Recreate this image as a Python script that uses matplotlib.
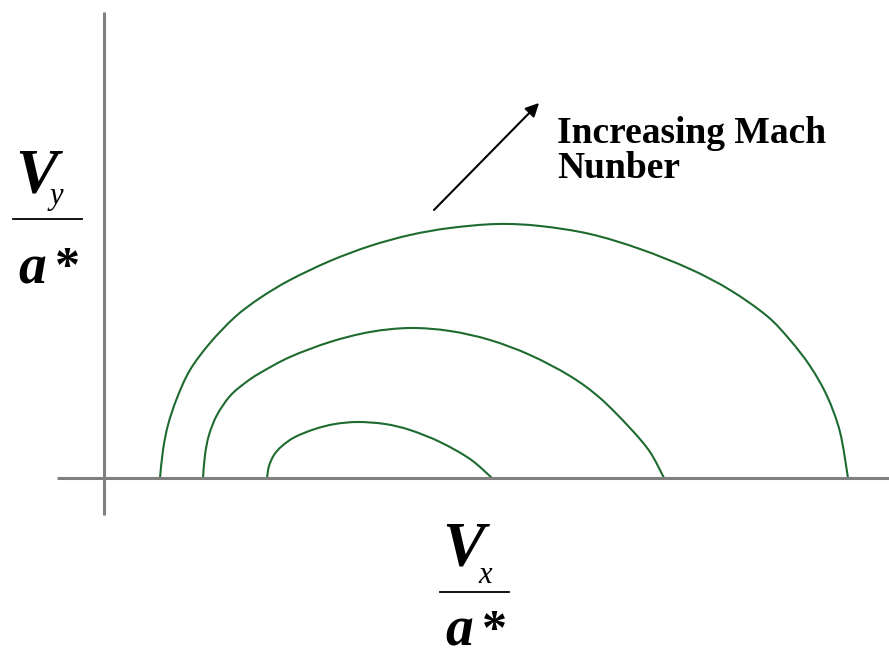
import numpy as np
import matplotlib.pyplot as plt
from matplotlib.path import Path
from matplotlib.patches import PathPatch, FancyArrowPatch

W, H = 889, 652

# velocity hodograph curves (V_x/a*, V_y/a*)
x_low = [1.63, 1.65, 1.70, 1.78, 1.91, 2.11, 2.31, 2.54, 2.81, 3.06, 3.36, 3.66, 3.88]
y_low = [0.00, 0.12, 0.23, 0.32, 0.41, 0.49, 0.54, 0.56, 0.54, 0.48, 0.36, 0.19, 0.00]

x_mid = [0.99, 1.01, 1.05, 1.13, 1.26, 1.41, 1.56, 1.86, 2.26, 2.66,
         3.06, 3.46, 3.86, 4.26, 4.66, 4.96, 5.26, 5.46, 5.60]
y_mid = [0.00, 0.23, 0.43, 0.63, 0.82, 0.95, 1.05, 1.21, 1.36, 1.46,
         1.50, 1.47, 1.38, 1.23, 1.02, 0.80, 0.50, 0.26, 0.00]

x_high = [0.56, 0.59, 0.64, 0.73, 0.86, 1.06, 1.31, 1.56, 1.86, 2.26,
          2.66, 3.06, 3.46, 3.93, 4.36, 4.86, 5.36, 5.86, 6.26, 6.63,
          6.86, 7.06, 7.23, 7.36, 7.44]
y_high = [0.00, 0.28, 0.53, 0.80, 1.08, 1.35, 1.61, 1.80, 1.98, 2.17,
          2.32, 2.43, 2.50, 2.54, 2.52, 2.44, 2.29, 2.09, 1.88, 1.62,
          1.38, 1.12, 0.82, 0.46, 0.00]

curves = [(x_low, y_low), (x_mid, y_mid), (x_high, y_high)]


def px(x, y):
    # picture pixels -> figure fraction
    return x / W, 1 - y / H


def smooth_path(xs, ys):
    # bezier path through the read points (catmull-rom tangents)
    p = np.column_stack([xs, ys])
    verts = [p[0]]
    codes = [Path.MOVETO]
    n = len(p)
    for i in range(n - 1):
        p0 = p[i - 1] if i > 0 else p[i]
        p3 = p[i + 2] if i + 2 < n else p[i + 1]
        verts += [p[i] + (p[i + 1] - p0) / 6, p[i + 1] - (p3 - p[i]) / 6, p[i + 1]]
        codes += [Path.CURVE4] * 3
    return Path(verts, codes)


fig = plt.figure(figsize=(W / 100, H / 100), dpi=100)
ax = fig.add_axes([0, 0, 1, 1])
ax.set_xlim(-1.04, 7.85)
ax.set_ylim(-1.74, 4.78)
ax.set_axis_off()

# axes drawn as plain grey lines
ax.plot([-0.47, 7.85], [0, 0], color='#808080', lw=2.2, solid_capstyle='butt')
ax.plot([0, 0], [-0.37, 4.66], color='#808080', lw=2.2, solid_capstyle='butt')

for xs, ys in curves:
    ax.add_patch(PathPatch(smooth_path(xs, ys), fill=False, ec='#1e6b30', lw=1.5))

# arrow + note
fig.add_artist(FancyArrowPatch(
    px(432, 212), px(541, 101), transform=fig.transFigure,
    arrowstyle='-|>', mutation_scale=20, lw=1.5, color='black'))
note = dict(family='Liberation Serif', weight='bold', fontsize=27,
            ha='left', va='baseline')
fig.text(*px(557, 143), 'Increasing Mach', **note)
fig.text(*px(557, 178), 'Nunber', **note)


def frac_label(x0, yline, sub, sub_dx, sub_base, a_base):
    it = dict(family='Liberation Serif', style='italic', ha='left', va='baseline')
    fig.text(*px(x0 + 2, yline - 27), 'V', fontsize=46, weight='bold', **it)
    fig.text(*px(x0 + sub_dx, yline + sub_base), sub, fontsize=22, **it)
    fig.add_artist(plt.Line2D([x0 / W, (x0 + 69) / W], [1 - yline / H] * 2,
                              color='black', lw=1.3, transform=fig.transFigure))
    fig.text(*px(x0 + 5, yline + a_base), 'a', fontsize=40, weight='bold', **it)
    fig.text(*px(x0 + 42, yline + a_base - 2), '*', fontsize=36,
             family='Liberation Serif', weight='bold', ha='left', va='baseline')


frac_label(13, 219, 'y', 37, -15, 64)
frac_label(440, 592, 'x', 38, -9, 54)

fig.savefig('out.png', dpi=100)
